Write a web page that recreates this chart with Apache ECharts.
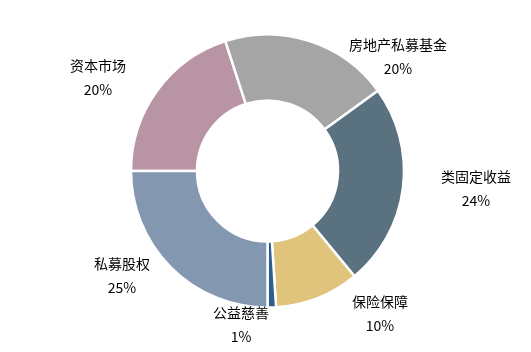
<!DOCTYPE html>
<html>
<head>
<meta charset="utf-8">
<script src="https://cdn.jsdelivr.net/npm/echarts@6/dist/echarts.min.js"></script>
<style>
  html, body { margin: 0; padding: 0; background: #fff; }
  #chart { width: 531px; height: 352px; }
</style>
</head>
<body>
<div id="chart"></div>
<script>
// clockwise from 9 o'clock
const names = ["资本市场", "房地产私募基金", "类固定收益", "保险保障", "公益慈善", "私募股权"];
const shares = [20, 20, 24, 10, 1, 25];
const colors = ["#b994a4", "#a5a5a5", "#5a717f", "#e0c47c", "#2e5f8f", "#8497b0"];

// where each label block is centred (hand placed, like the original)
const labelAt = [[98, 78], [398, 57], [476, 189], [380, 314], [241, 325], [122, 276]];

let myChart = echarts.init(document.getElementById("chart"));
let option = {
  backgroundColor: "#fff",
  animation: false,
  series: [
    {
      type: "pie",
      center: [267.5, 171],
      radius: [70.5, 136.5],
      startAngle: 180,
      clockwise: true,
      avoidLabelOverlap: false,
      minShowLabelAngle: 0,
      data: names.map((n, i) => ({
        name: n,
        value: shares[i],
        itemStyle: { color: colors[i] }
      })),
      itemStyle: { borderColor: "#fff", borderWidth: 2.5 },
      label: {
        show: true,
        position: "outside",
        formatter: p => p.name + "\n" + p.value + "%",
        fontFamily: "Noto Sans CJK SC",
        fontSize: 14,
        lineHeight: 24,
        color: "#000"
      },
      labelLine: { show: false, length: 20, length2: 0 },
      labelLayout: p => ({
        x: labelAt[p.dataIndex][0],
        y: labelAt[p.dataIndex][1],
        align: "center",
        verticalAlign: "middle"
      })
    }
  ]
};
myChart.setOption(option);
</script>
</body>
</html>
